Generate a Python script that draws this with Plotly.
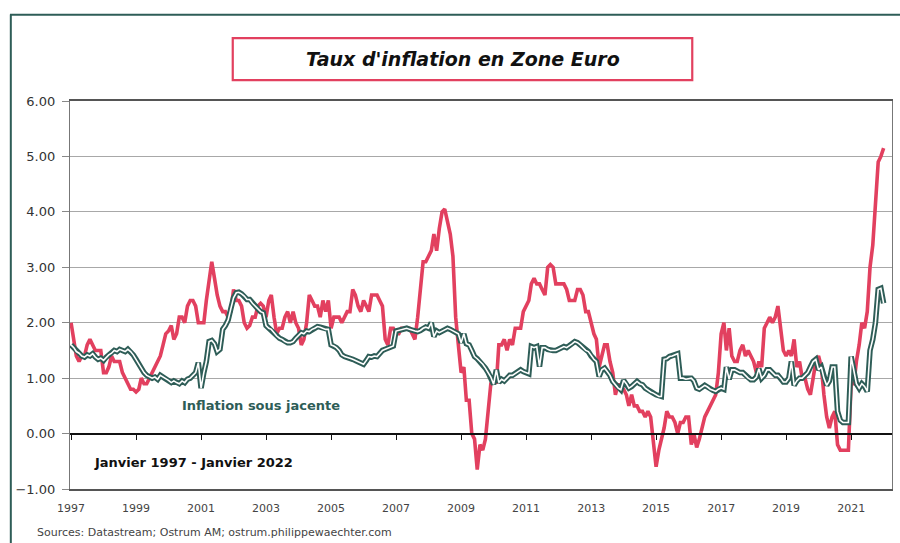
import pandas as pd
import plotly.graph_objects as go

# Monthly, Jan 1997 - Jan 2022
start_month = "1997-01-01"
headline = [
    2.0, 1.7, 1.4, 1.3, 1.4, 1.4, 1.6, 1.7, 1.6, 1.5, 1.5, 1.5,      # 1997
    1.1, 1.1, 1.2, 1.4, 1.3, 1.3, 1.3, 1.1, 1.0, 0.9, 0.8, 0.8,      # 1998
    0.75, 0.8, 1.0, 0.9, 0.9, 1.0, 1.1, 1.2, 1.3, 1.4, 1.6, 1.8,     # 1999
    1.85, 1.95, 1.7, 1.8, 2.1, 2.1, 2.0, 2.3, 2.4, 2.4, 2.3, 2.0,    # 2000
    2.0, 2.0, 2.4, 2.8, 3.1, 2.8, 2.5, 2.3, 2.2, 2.2, 2.1, 2.2,      # 2001
    2.6, 2.4, 2.4, 2.3, 2.0, 1.9, 1.95, 2.1, 2.1, 2.3, 2.35, 2.3,    # 2002
    2.1, 2.4, 2.5, 2.1, 1.8, 1.9, 1.9, 2.1, 2.2, 2.0, 2.2, 2.0,      # 2003
    1.9, 1.6, 1.7, 2.0, 2.5, 2.4, 2.3, 2.3, 2.1, 2.4, 2.2, 2.4,      # 2004
    1.9, 2.1, 2.1, 2.1, 2.0, 2.1, 2.2, 2.2, 2.6, 2.5, 2.3, 2.2,      # 2005
    2.4, 2.3, 2.2, 2.5, 2.5, 2.5, 2.4, 2.3, 1.7, 1.6, 1.9, 1.9,      # 2006
    1.8, 1.8, 1.9, 1.9, 1.9, 1.9, 1.8, 1.7, 2.1, 2.6, 3.1, 3.1,      # 2007
    3.2, 3.3, 3.6, 3.3, 3.7, 4.0, 4.05, 3.8, 3.6, 3.2, 2.1, 1.6,     # 2008
    1.1, 1.2, 0.6, 0.6, 0.0, -0.1, -0.65, -0.2, -0.3, -0.1, 0.5, 0.9,  # 2009
    1.0, 0.9, 1.6, 1.6, 1.7, 1.5, 1.7, 1.6, 1.9, 1.9, 1.9, 2.2,      # 2010
    2.3, 2.4, 2.7, 2.8, 2.7, 2.7, 2.6, 2.5, 3.0, 3.05, 3.0, 2.7,     # 2011
    2.7, 2.7, 2.7, 2.6, 2.4, 2.4, 2.4, 2.6, 2.6, 2.5, 2.2, 2.2,      # 2012
    2.0, 1.8, 1.7, 1.2, 1.4, 1.6, 1.6, 1.3, 1.1, 0.7, 0.9, 0.8,      # 2013
    0.8, 0.7, 0.5, 0.7, 0.5, 0.5, 0.4, 0.4, 0.3, 0.4, 0.3, -0.2,     # 2014
    -0.6, -0.3, -0.1, 0.1, 0.4, 0.3, 0.3, 0.2, 0.0, 0.2, 0.2, 0.3,   # 2015
    0.3, -0.2, 0.0, -0.25, -0.1, 0.1, 0.3, 0.4, 0.5, 0.6, 0.7, 1.1,  # 2016
    1.8, 2.0, 1.5, 1.9, 1.4, 1.3, 1.3, 1.5, 1.6, 1.4, 1.5, 1.4,      # 2017
    1.3, 1.1, 1.3, 1.2, 1.9, 2.0, 2.1, 2.0, 2.1, 2.3, 1.9, 1.5,      # 2018
    1.4, 1.5, 1.4, 1.7, 1.2, 1.3, 1.0, 1.0, 0.8, 0.7, 1.0, 1.3,      # 2019
    1.4, 1.2, 0.7, 0.3, 0.1, 0.3, 0.4, -0.2, -0.3, -0.3, -0.3, -0.3, # 2020
    0.9, 0.9, 1.3, 1.6, 2.0, 1.9, 2.2, 3.0, 3.4, 4.1, 4.9, 5.0,      # 2021
    5.15,                                                            # 2022
]
core = [
    1.60, 1.55, 1.48, 1.45, 1.40, 1.38, 1.42, 1.40, 1.44, 1.38, 1.34, 1.36,  # 1997
    1.32, 1.38, 1.42, 1.45, 1.50, 1.48, 1.52, 1.50, 1.48, 1.52, 1.48, 1.42,  # 1998
    1.34, 1.25, 1.18, 1.10, 1.05, 1.02, 1.00, 1.02, 0.98, 1.05, 1.02, 1.00,  # 1999
    0.96, 0.92, 0.95, 0.92, 0.90, 0.95, 0.92, 0.98, 1.00, 1.05, 1.10, 1.28,  # 2000
    0.82, 1.10, 1.30, 1.66, 1.68, 1.62, 1.48, 1.52, 1.88, 1.95, 2.05, 2.25,  # 2001
    2.45, 2.54, 2.55, 2.52, 2.48, 2.42, 2.42, 2.35, 2.30, 2.25, 2.20, 2.18,  # 2002
    1.95, 1.90, 1.88, 1.82, 1.76, 1.72, 1.70, 1.66, 1.64, 1.64, 1.66, 1.72,  # 2003
    1.78, 1.82, 1.80, 1.85, 1.84, 1.88, 1.90, 1.93, 1.92, 1.90, 1.88, 1.88,  # 2004
    1.60, 1.58, 1.55, 1.50, 1.42, 1.39, 1.38, 1.36, 1.34, 1.32, 1.30, 1.28,  # 2005
    1.25, 1.32, 1.39, 1.38, 1.40, 1.39, 1.45, 1.50, 1.52, 1.54, 1.57, 1.58,  # 2006
    1.85, 1.86, 1.88, 1.88, 1.90, 1.88, 1.86, 1.85, 1.84, 1.86, 1.90, 1.92,  # 2007
    1.90, 2.00, 1.75, 1.85, 1.82, 1.85, 1.88, 1.90, 1.88, 1.85, 1.82, 1.80,  # 2008
    1.64, 1.80, 1.62, 1.60, 1.50, 1.39, 1.35, 1.30, 1.25, 1.18, 1.10, 1.02,  # 2009
    0.89, 1.15, 0.92, 0.98, 0.95, 1.00, 1.05, 1.05, 1.08, 1.12, 1.15, 1.12,  # 2010
    1.10, 1.08, 1.57, 1.55, 1.57, 1.21, 1.55, 1.55, 1.52, 1.50, 1.50, 1.50,  # 2011
    1.52, 1.55, 1.57, 1.55, 1.58, 1.62, 1.66, 1.64, 1.60, 1.55, 1.50, 1.48,  # 2012
    1.40, 1.34, 1.30, 1.03, 1.15, 1.18, 1.12, 1.05, 0.94, 0.88, 0.82, 0.79,  # 2013
    0.96, 0.90, 0.82, 0.85, 0.90, 0.94, 0.90, 0.88, 0.82, 0.78, 0.75, 0.73,  # 2014
    0.70, 0.67, 0.67, 1.34, 1.35, 1.39, 1.40, 1.42, 1.44, 1.00, 1.00, 0.98,  # 2015
    0.99, 1.00, 0.95, 0.82, 0.80, 0.84, 0.87, 0.84, 0.80, 0.78, 0.76, 0.80,  # 2016
    0.82, 0.80, 1.20, 0.98, 1.15, 1.15, 1.12, 1.10, 1.10, 1.05, 1.00, 0.97,  # 2017
    0.97, 1.02, 1.17, 1.00, 1.05, 1.15, 1.15, 1.10, 1.05, 1.05, 1.00, 0.93,  # 2018
    0.93, 1.00, 1.30, 0.87, 0.95, 1.00, 1.00, 1.05, 1.10, 1.20, 1.30, 1.34,  # 2019
    1.15, 1.20, 1.00, 0.87, 0.95, 1.20, 1.20, 0.40, 0.24, 0.20, 0.20, 0.20,  # 2020
    1.39, 1.10, 0.90, 0.82, 0.90, 0.85, 0.76, 1.50, 1.70, 2.00, 2.60, 2.62,  # 2021
    2.35,                                                                     # 2022
]
x_tick_years = [1997, 1999, 2001, 2003, 2005, 2007, 2009, 2011, 2013, 2015, 2017, 2019, 2021]
y_ticks = [-1, 0, 1, 2, 3, 4, 5, 6]

title_text = "Taux d'inflation en Zone Euro"
core_label = "Inflation sous jacente"
period_label = "Janvier 1997 - Janvier 2022"
source_text = "Sources: Datastream; Ostrum AM; ostrum.philippewaechter.com"

months = pd.date_range(start_month, periods=len(headline), freq="MS")
tickvals = [pd.Timestamp(f"{y}-01-01") for y in x_tick_years]
ticktext = [str(y) for y in x_tick_years]

RED = "#E2405F"
TEAL = "#2E5D57"
FONT = "DejaVu Sans"

fig = go.Figure()
fig.add_trace(go.Scatter(x=months, y=headline, mode="lines",
                         line=dict(color=RED, width=3.6), hoverinfo="skip"))
fig.add_trace(go.Scatter(x=months, y=core, mode="lines",
                         line=dict(color=TEAL, width=5.5), hoverinfo="skip"))
fig.add_trace(go.Scatter(x=months, y=core, mode="lines",
                         line=dict(color="white", width=1.6), hoverinfo="skip"))

xr = [pd.Timestamp("1996-12-20"), pd.Timestamp("2022-04-05")]

fig.update_layout(
    width=900, height=543,
    margin=dict(l=70, r=8, t=101, b=54),
    paper_bgcolor="white", plot_bgcolor="white",
    showlegend=False,
    font=dict(family=FONT, color="#333"),
    xaxis=dict(range=xr, tickvals=tickvals, ticktext=ticktext,
               ticks="", showgrid=False, zeroline=False,
               showline=True, linecolor="#555", linewidth=1.5, mirror=True,
               tickfont=dict(size=11, color="#444"), ticklabelstandoff=8),
    xaxis2=dict(range=xr, overlaying="x", anchor="free", position=1/7,
                tickvals=tickvals, ticktext=["" for _ in tickvals],
                ticks="outside", ticklen=6, tickcolor="#111", tickwidth=1.2,
                showline=True, linecolor="#111", linewidth=1.5,
                showgrid=False, zeroline=False),
    yaxis=dict(range=[-1, 6], tickvals=y_ticks, tickformat=".2f",
               showgrid=True, gridcolor="#A8A8A8", gridwidth=1.2,
               zeroline=False, ticks="outside", ticklen=7, tickcolor="#888",
               showline=True, linecolor="#777", linewidth=1.2, mirror=True,
               tickfont=dict(size=13, color="#333"), ticklabelstandoff=4),
)

# dummy trace to activate xaxis2
fig.add_trace(go.Scatter(x=[months[0]], y=[None], xaxis="x2", mode="lines",
                         hoverinfo="skip", showlegend=False))

# outer frame: only top and left edges are visible in the picture
fig.add_shape(type="line", xref="paper", yref="paper",
              x0=-0.073, x1=1.05, y0=1.222, y1=1.222,
              line=dict(color=TEAL, width=2))
fig.add_shape(type="line", xref="paper", yref="paper",
              x0=-0.072, x1=-0.072, y0=-0.2, y1=1.223,
              line=dict(color=TEAL, width=2))
# title box
fig.add_shape(type="rect", xref="paper", yref="paper",
              x0=0.198, x1=0.757, y0=1.054, y1=1.162,
              line=dict(color=RED, width=2.2), fillcolor="white")
fig.add_annotation(text=f"<b><i>{title_text}</i></b>", xref="paper", yref="paper",
                   x=0.4775, y=1.108, xanchor="center", yanchor="middle", showarrow=False,
                   font=dict(size=19, color="#111", family=FONT))
fig.add_annotation(text=f"<b>{core_label}</b>", xref="x", yref="y",
                   x=pd.Timestamp("2000-05-10"), y=0.5, xanchor="left", yanchor="middle",
                   showarrow=False, font=dict(size=13, color=TEAL, family=FONT))
fig.add_annotation(text=f"<b>{period_label}</b>", xref="x", yref="y",
                   x=pd.Timestamp("1997-08-20"), y=-0.52, xanchor="left", yanchor="middle",
                   showarrow=False, font=dict(size=13, color="#111", family=FONT))
fig.add_annotation(text=source_text, xref="paper", yref="paper",
                   x=-0.043, y=-0.111, xanchor="left", yanchor="middle", showarrow=False,
                   font=dict(size=11, color="#444", family=FONT))

fig.write_html("out.html", config={"displayModeBar": False},
               post_script="document.body.style.margin='0';document.body.style.overflow='hidden';")
